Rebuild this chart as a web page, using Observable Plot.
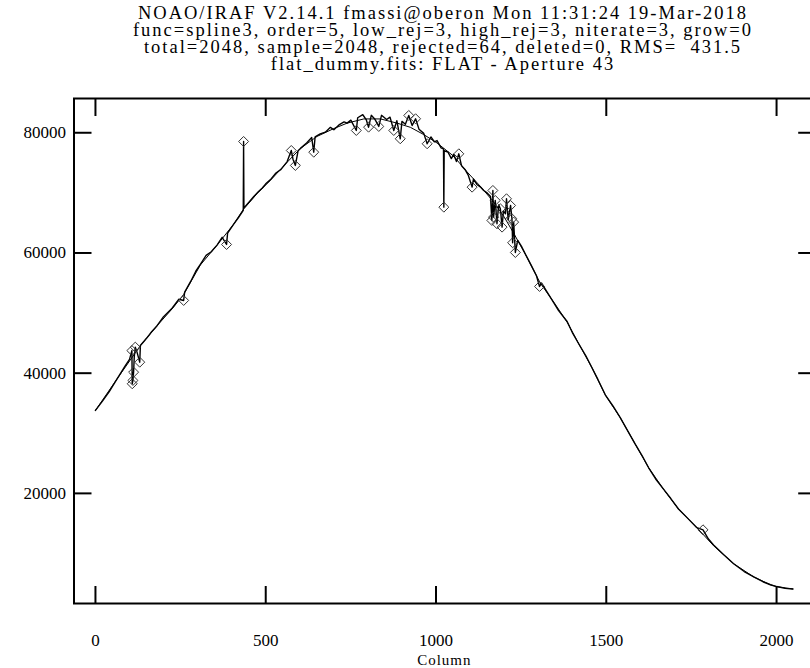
<!DOCTYPE html>
<html><head><meta charset="utf-8">
<script src="https://cdn.jsdelivr.net/npm/d3@7"></script>
<script src="https://cdn.jsdelivr.net/npm/@observablehq/plot@0.6"></script>
<style>
body{margin:0;background:#fff;}
#title{height:80px;box-sizing:border-box;padding:5px 0 0 76px;width:810px;text-align:center;font-family:"Liberation Serif",serif;font-size:18.5px;line-height:17px;letter-spacing:2px;color:#000;white-space:pre;overflow:hidden;}
#chart svg{display:block;}
</style></head><body>
<div id="title"></div><div id="chart"></div>
<script>
const titleLines = [
  "NOAO/IRAF V2.14.1 fmassi@oberon Mon 11:31:24 19-Mar-2018",
  "func=spline3, order=5, low_rej=3, high_rej=3, niterate=3, grow=0",
  "total=2048, sample=2048, rejected=64, deleted=0, RMS=  431.5",
  "flat_dummy.fits: FLAT - Aperture 43"
];
const xLabel = "Column";
const xTicks = [0, 500, 1000, 1500, 2000];
const yTicks = [20000, 40000, 60000, 80000];

const dataCols = [0,20,40,64,85,100,107,108,110,112,114,117,122,130,132,150,165,181,200,225,245,259,262,280,295,308,325,340,357,372,385,388,406,420,434,435,436,450,465,475,490,500,514,530,545,563,575,580,587,595,602,620,635,641,645,660,675,690,700,715,730,739,750,766,770,785,795,802,810,820,832,840,855,865,876,885,895,900,910,920,930,940,950,964,974,985,995,1003,1015,1022,1023,1024,1035,1045,1052,1060,1067,1075,1085,1095,1106,1110,1120,1130,1140,1150,1160,1164,1167,1169,1174,1179,1184,1189,1194,1198,1204,1207,1212,1219,1223,1225,1228,1233,1240,1252,1267,1280,1295,1304,1310,1325,1346,1360,1385,1400,1419,1440,1458,1475,1497,1520,1541,1560,1585,1605,1624,1645,1668,1690,1712,1740,1766,1784,1800,1815,1845,1874,1905,1933,1960,1982,2000,2025,2048];
const dataVals = [33800,35300,36900,39100,41000,42300,43760,38240,38790,40170,42800,44330,43500,41830,44600,45800,46900,47900,49400,50800,52300,52100,53500,55300,57000,58100,59600,60200,61300,62600,61410,63300,64800,65900,67100,78550,67500,68400,69400,70000,70800,71500,72200,73300,73900,75200,77050,75600,74560,77000,77400,78300,79200,76770,79300,79800,80100,80900,80500,81300,81800,81600,82100,80380,82500,83000,82200,80930,82900,82300,81050,82900,82200,82600,80380,82000,79000,81900,81400,82880,81200,82330,80600,79900,78170,79300,78500,78700,77500,77300,67620,77000,76800,75700,76400,75200,76500,74500,73900,72900,70950,72300,71400,71000,70400,70000,69400,65410,70400,65960,68740,64860,68000,67350,64300,67000,66520,69020,65500,67900,65690,61700,65130,60080,62100,61000,59300,57900,56200,54430,55000,53600,51700,50400,48600,46800,44900,42900,40900,39000,36400,34500,32600,30700,28200,26300,24300,22400,20700,19100,17400,15800,14300,13940,12400,11400,9800,8300,7000,6100,5300,4800,4500,4200,4100];

const fitCols = [0,64,132,181,225,259,308,357,406,435,475,514,563,602,651,700,739,788,837,886,925,964,1003,1052,1091,1130,1169,1200,1228,1267,1306,1346,1385,1419,1458,1497,1541,1585,1624,1668,1712,1766,1815,1874,1933,1982,2000,2048];
const fitVals = [33800,39100,44600,47900,50700,53100,58000,61300,64800,67300,69900,72100,75100,77400,79400,80700,81600,82300,82300,81600,80900,79700,78300,76100,73500,71100,68500,66000,63300,59300,55000,51800,48500,44900,40900,36400,32600,28200,24300,20700,17400,14300,11300,8300,6100,4800,4500,4100];

const rejCols = [107,108,110,112,117,130,259,385,435,575,587,641,766,802,832,876,895,920,940,974,1023,1067,1106,1164,1167,1169,1174,1179,1189,1194,1204,1207,1219,1223,1225,1228,1233,1304,1784];
const rejVals = [43760,38240,38790,40170,44330,41830,52100,61410,78550,77050,74560,76770,80380,80930,81050,80380,79000,82880,82330,78170,67620,76500,70950,65410,70400,65960,68740,64860,67350,64300,66520,69020,67900,65690,61700,65130,60080,54430,13940];

document.getElementById("title").textContent = titleLines.join("\n");

const data = dataCols.map((c, i) => ({col: c, val: dataVals[i]}));
const fit = fitCols.map((c, i) => ({col: c, val: fitVals[i]}));
const rej = rejCols.map((c, i) => ({col: c, val: rejVals[i]}));

const chart = Plot.plot({
  width: 810,
  height: 588,
  marginLeft: 73.5,
  marginRight: -4.2,
  marginTop: 18,
  marginBottom: 65,
  x: {domain: [-63, 2112]},
  y: {domain: [1680, 85700]},
  style: {fontFamily: '"Liberation Serif", serif', fontSize: "17px", color: "#000", background: "#fff", overflow: "hidden"},
  marks: [
    Plot.line(fit, {x: "col", y: "val", stroke: "#000", strokeWidth: 1}),
    Plot.line(data, {x: "col", y: "val", stroke: "#000", strokeWidth: 1.4}),
    Plot.dot(rej, {x: "col", y: "val", symbol: "diamond2", r: 4.5, stroke: "#333", strokeWidth: 1, fill: "none"}),
    Plot.frame({stroke: "#000", strokeWidth: 2}),
    Plot.axisX(xTicks, {anchor: "bottom", tickSize: -17, strokeWidth: 2, tickFormat: () => "", label: null}),
    Plot.axisX(xTicks, {anchor: "top", tickSize: -17, strokeWidth: 2, tickFormat: () => "", label: null}),
    Plot.axisY(yTicks, {anchor: "left", tickSize: -18, strokeWidth: 2, tickFormat: () => "", label: null}),
    Plot.axisY(yTicks, {anchor: "right", tickSize: -17, strokeWidth: 2, tickFormat: () => "", label: null}),
    Plot.axisX(xTicks, {anchor: "bottom", tickSize: 0, tickPadding: 30, tickFormat: d => String(d), label: null}),
    Plot.axisY(yTicks, {anchor: "left", tickSize: 0, tickPadding: 8, tickFormat: d => String(d), label: null}),
    Plot.text([xLabel], {text: d => d, frameAnchor: "bottom", dy: 57, lineAnchor: "middle", fontSize: 15, letterSpacing: "1px"})
  ]
});
chart.querySelectorAll("text").forEach(t => { if (t.textContent === xLabel) t.setAttribute("letter-spacing", "1px"); });
document.getElementById("chart").appendChild(chart);
</script>
</body></html>
